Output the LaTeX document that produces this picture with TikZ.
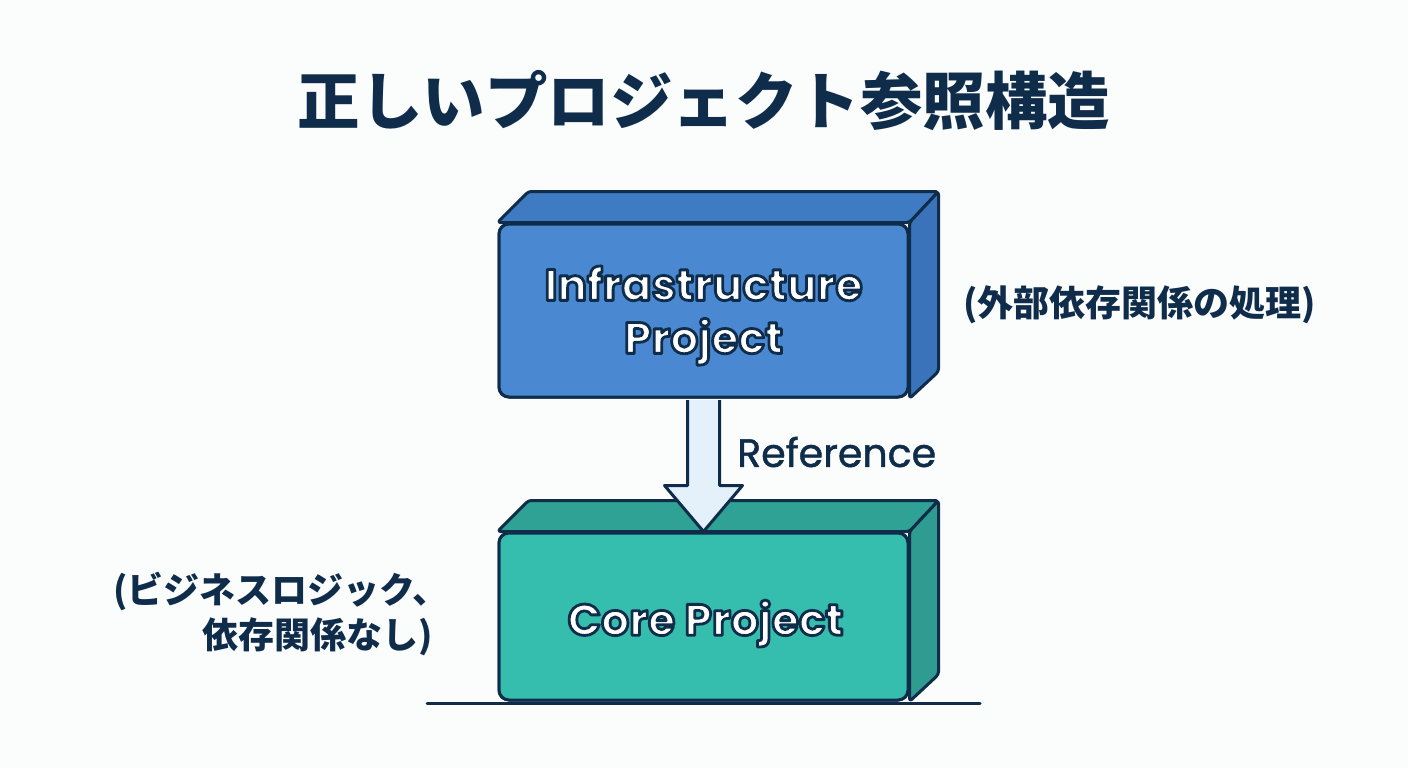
\documentclass[tikz,border=0pt]{standalone}
\usepackage{fontspec}
\usetikzlibrary{calc}
\newfontfamily\jpfont{Noto Sans CJK JP}
\newfontfamily\labfont{Poppins}
\newfontfamily\reffont{Poppins}[FakeBold=1.2]
\newcommand\outlined[1]{\special{pdf:literal direct 2 Tr 1 j 2.8 w 0.059 0.176 0.294 RG}#1\special{pdf:literal direct 0 Tr}}
\definecolor{navy}{HTML}{0F2D4B}
\definecolor{bluefront}{HTML}{4A89D1}
\definecolor{bluetop}{HTML}{3F7BC2}
\definecolor{blueside}{HTML}{3A73B9}
\definecolor{tealfront}{HTML}{35BEAD}
\definecolor{tealtop}{HTML}{2FA195}
\definecolor{tealside}{HTML}{2E9C90}
\definecolor{arrowfill}{HTML}{E4F1FB}
\definecolor{bgcol}{HTML}{FBFCFC}
\tikzset{
  facestyle/.style={draw=navy, line width=3pt, line join=round, rounded corners=3pt},
  frontface/.style={draw=navy, line width=3pt, rectangle, rounded corners=10pt,
    minimum width=409pt, minimum height=#1, inner sep=0pt},
  boxlabel/.style={text=white, font=\labfont\bfseries\fontsize{44}{53}\selectfont, align=center},
  annot/.style={text=navy, font=\jpfont\bfseries\fontsize{36}{46}\selectfont, inner sep=0pt},
  titlestyle/.style={text=navy, font=\jpfont\bfseries\fontsize{62.5}{70}\selectfont},
  reflabel/.style={text=navy, font=\reffont\fontsize{39.5}{44}\selectfont, inner sep=0pt},
  blockarrow/.style={draw=navy, fill=arrowfill, line width=3pt, line join=round},
  groundline/.style={draw=navy, line width=3pt, line cap=round}
}
\begin{document}
\begin{tikzpicture}[x=1pt,y=-1pt]
\fill[bgcol] (0,0) rectangle (1408,768);
\useasboundingbox (0,0) rectangle (1408,768);

% title
\node[titlestyle] (title) at (704,101) {正しいプロジェクト参照構造};

% ground line
\coordinate (gl) at (427,703);
\coordinate (gr) at (980,703);
\draw[groundline] (gl) -- (gr);

% core box
\node[frontface=167pt, fill=tealfront] (core) at (703.5,616.5) {};
\filldraw[facestyle, fill=tealtop] (core.north west) -- ++(31,-31) -- ($(core.north east)+(29,-31)$) -- (core.north east) -- cycle;
\filldraw[facestyle, fill=tealside] (core.north east) -- ++(29,-31) -- ($(core.south east)+(29,-27)$) -- (core.south east) -- cycle;
\node[frontface=167pt, fill=tealfront] at (core) {};
\node[boxlabel] (coretext) at ($(core)+(2,7)$) {\outlined{Core Project}};

% infra box
\node[frontface=173pt, fill=bluefront] (infra) at (703.5,310.5) {};
\filldraw[facestyle, fill=bluetop] (infra.north west) -- ++(31,-31) -- ($(infra.north east)+(29,-31)$) -- (infra.north east) -- cycle;
\filldraw[facestyle, fill=blueside] (infra.north east) -- ++(29,-31) -- ($(infra.south east)+(29,-27)$) -- (infra.south east) -- cycle;
\node[frontface=173pt, fill=bluefront] at (infra) {};
\node[boxlabel] (infratext) at ($(infra)+(0,5)$) {\outlined{Infrastructure}\\\outlined{Project}};

% reference arrow
\draw[blockarrow] ($(infra.south)+(-16,1.5)$) -- ($(core.north)+(-16,-46)$) -- ($(core.north)+(-39,-46)$) -- (core.north) -- ($(core.north)+(39,-46)$) -- ($(core.north)+(16,-46)$) -- ($(infra.south)+(16,1.5)$);
\node[reflabel, anchor=west] (reflbl) at (737,452) {Reference};

% annotations
\node[annot, anchor=west] (rnote) at (963,305) {(外部依存関係の処理)};
\node[annot, anchor=west] (lnote1) at (113,591) {(ビジネスロジック、};
\node[annot, anchor=east] (lnote2) at (433,637) {依存関係なし)};
\end{tikzpicture}
\end{document}
